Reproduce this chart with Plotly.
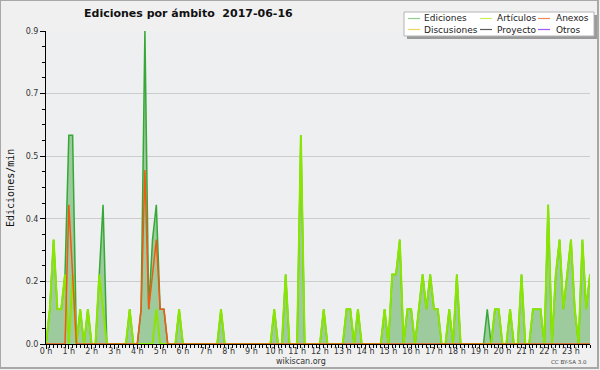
import plotly.graph_objects as go

# ---- data: edits per minute, 10-minute bins (6 per hour), 2017-06-16 ----
ediciones = [
    0, 0.1, 0.3, 0.1, 0.1, 0.2,      # 0 h
    0.6, 0.6, 0, 0.1, 0, 0.1,        # 1 h
    0, 0, 0.2, 0.4, 0, 0,            # 2 h
    0, 0, 0, 0, 0.1, 0,              # 3 h
    0, 0.1, 0.9, 0.1, 0.3, 0.4,      # 4 h
    0.1, 0.1, 0, 0, 0, 0.1,          # 5 h
    0, 0, 0, 0, 0, 0,                # 6 h
    0, 0, 0, 0, 0.1, 0,              # 7 h
    0, 0, 0, 0, 0, 0,                # 8 h
    0, 0, 0, 0, 0, 0,                # 9 h
    0.1, 0, 0, 0.2, 0, 0,            # 10 h
    0, 0.6, 0, 0, 0, 0,              # 11 h
    0, 0.1, 0, 0, 0, 0,              # 12 h
    0, 0.1, 0.1, 0, 0.1, 0,          # 13 h
    0, 0, 0, 0, 0, 0.1,              # 14 h
    0, 0.2, 0.2, 0.3, 0, 0.1,        # 15 h
    0.1, 0, 0.1, 0.2, 0.1, 0.2,      # 16 h
    0.1, 0.1, 0, 0, 0.1, 0,          # 17 h
    0.2, 0, 0, 0, 0, 0,              # 18 h
    0, 0, 0.1, 0, 0.1, 0.1,          # 19 h
    0, 0, 0.1, 0, 0, 0.2,            # 20 h
    0, 0, 0.1, 0.1, 0.1, 0,          # 21 h
    0.4, 0, 0.2, 0.3, 0.1, 0.2,      # 22 h
    0.3, 0.1, 0, 0.3, 0.1, 0.2,      # 23 h
]

articulos = [
    0, 0.1, 0.3, 0.1, 0.1, 0.2,
    0, 0.2, 0, 0.1, 0, 0.1,
    0, 0, 0.2, 0.1, 0, 0,
    0, 0, 0, 0, 0.1, 0,
    0, 0, 0, 0, 0, 0.1,
    0, 0, 0, 0, 0, 0.1,
    0, 0, 0, 0, 0, 0,
    0, 0, 0, 0, 0.1, 0,
    0, 0, 0, 0, 0, 0,
    0, 0, 0, 0, 0, 0,
    0.1, 0, 0, 0.2, 0, 0,
    0, 0.6, 0, 0, 0, 0,
    0, 0.1, 0, 0, 0, 0,
    0, 0.1, 0.1, 0, 0.1, 0,
    0, 0, 0, 0, 0, 0.1,
    0, 0.2, 0.2, 0.3, 0, 0.1,
    0.1, 0, 0.1, 0.2, 0.1, 0.2,
    0.1, 0.1, 0, 0, 0.1, 0,
    0.2, 0, 0, 0, 0, 0,
    0, 0, 0, 0, 0.1, 0.1,
    0, 0, 0.1, 0, 0, 0.2,
    0, 0, 0.1, 0.1, 0.1, 0,
    0.4, 0, 0.2, 0.3, 0.1, 0.2,
    0.3, 0.1, 0, 0.3, 0.1, 0.2,
]

anexos = [
    0, 0, 0, 0, 0, 0,
    0.4, 0.2, 0, 0, 0, 0,
    0, 0, 0, 0, 0, 0,
    0, 0, 0, 0, 0, 0,
    0, 0.1, 0.5, 0.1, 0.2, 0.3,
    0.1, 0.1, 0, 0, 0, 0,
    0, 0, 0, 0, 0, 0,
    0, 0, 0, 0, 0, 0,
    0, 0, 0, 0, 0, 0,
    0, 0, 0, 0, 0, 0,
    0, 0, 0, 0, 0, 0,
    0, 0, 0, 0, 0, 0,
    0, 0, 0, 0, 0, 0,
    0, 0, 0, 0, 0, 0,
    0, 0, 0, 0, 0, 0,
    0, 0, 0, 0, 0, 0,
    0, 0, 0, 0, 0, 0,
    0, 0, 0, 0, 0, 0,
    0, 0, 0, 0, 0, 0,
    0, 0, 0, 0, 0, 0,
    0, 0, 0, 0, 0, 0,
    0, 0, 0, 0, 0, 0,
    0, 0, 0, 0, 0, 0,
    0, 0, 0, 0, 0, 0,
]

hour_ticks = list(range(24))
hour_labels = ["0 h", "1 h", "2 h", "3 h", "4 h", "5 h", "6 h", "7 h", "8 h", "9 h",
               "10 h", "11 h", "12 h", "13 h", "14 h", "15 h", "16 h", "17 h", "18 h",
               "19 h", "20 h", "21 h", "22 h", "23 h"]
y_ticks = [0, 0.18, 0.36, 0.54, 0.72, 0.9]
y_labels = ["0.0", "0.2", "0.4", "0.5", "0.7", "0.9"]

legend_names = [["Ediciones", "Artículos", "Anexos"],
                ["Discusiones", "Proyecto", "Otros"]]
legend_colors = [["#8fd08f", "#c8ee5a", "#f08a5a"],
                 ["#f2d460", "#5a5a5a", "#9a5af0"]]

BIN_MIN = 10
x_hours = [i * BIN_MIN / 60 for i in range(len(ediciones))]

# ---- geometry helpers (pixels -> paper) ----
W, H = 600, 370
ML, MR, MT, MB = 46, 10, 31, 26
PW, PH = W - ML - MR, H - MT - MB


def px(x):
    return (x - ML) / PW


def py(y):
    return (H - MB - y) / PH


FONT = "DejaVu Sans"

fig = go.Figure()
fig.add_trace(go.Scatter(x=x_hours, y=ediciones, mode="lines", name="Ediciones",
                         line=dict(color="#35a835", width=1.5),
                         fill="tozeroy", fillcolor="#9ecb9e", showlegend=False))
fig.add_trace(go.Scatter(x=x_hours, y=articulos, mode="lines", name="Artículos",
                         line=dict(color="#8ae600", width=2), showlegend=False))
fig.add_trace(go.Scatter(x=x_hours, y=anexos, mode="lines", name="Anexos",
                         line=dict(color="#f05a14", width=1.5), showlegend=False))

shapes = []
annotations = []

# outer frame
shapes.append(dict(type="rect", xref="paper", yref="paper",
                   x0=px(0), x1=px(598), y0=py(368), y1=py(0),
                   line=dict(color="#a8a8a8", width=2), fillcolor="rgba(0,0,0,0)", layer="above"))
# legend shadow + box
shapes.append(dict(type="rect", xref="paper", yref="paper",
                   x0=px(407), x1=px(597), y0=py(39), y1=py(15),
                   line=dict(width=0), fillcolor="#9a9a9a", layer="above"))
shapes.append(dict(type="rect", xref="paper", yref="paper",
                   x0=px(404), x1=px(594), y0=py(36), y1=py(12),
                   line=dict(color="#b4b4b4", width=1), fillcolor="white", layer="above"))

col_sw = [(408, 420, 423), (480, 492, 496), (538, 550, 555)]
row_y = [18.5, 29.5]
for r in range(2):
    for c in range(3):
        x0, x1, xt = col_sw[c]
        shapes.append(dict(type="line", xref="paper", yref="paper",
                           x0=px(x0), x1=px(x1), y0=py(row_y[r]), y1=py(row_y[r]),
                           line=dict(color=legend_colors[r][c], width=1.2), layer="above"))
        annotations.append(dict(text=legend_names[r][c], xref="paper", yref="paper",
                                x=px(xt), y=py(row_y[r]), xanchor="left", yanchor="middle",
                                showarrow=False, borderpad=0,
                                font=dict(family=FONT, size=9, color="#222")))

annotations.append(dict(text="<b>Ediciones por ámbito\u00a0\u00a02017-06-16</b>",
                        xref="paper", yref="paper", x=px(188), y=py(13.5),
                        xanchor="center", yanchor="middle", showarrow=False,
                        font=dict(family=FONT, size=11, color="#111")))
annotations.append(dict(text="Ediciones/min", xref="paper", yref="paper",
                        x=px(10), y=py(188), xanchor="center", yanchor="middle",
                        textangle=-90, showarrow=False,
                        font=dict(family="DejaVu Sans Mono", size=10, color="#111")))
annotations.append(dict(text="wikiscan.org", xref="paper", yref="paper",
                        x=px(300.5), y=py(361.5), xanchor="center", yanchor="middle",
                        showarrow=False, font=dict(family=FONT, size=8, color="#333")))
annotations.append(dict(text="CC BY-SA 3.0", xref="paper", yref="paper",
                        x=px(589), y=py(362), xanchor="right", yanchor="middle",
                        showarrow=False, font=dict(family=FONT, size=5.5, color="#444")))

fig.update_layout(
    width=W, height=H,
    margin=dict(l=ML, r=MR, t=MT, b=MB, pad=0),
    paper_bgcolor="#f0f0f0",
    plot_bgcolor="#eeeff1",
    font=dict(family=FONT, size=8, color="#333"),
    shapes=shapes,
    annotations=annotations,
    showlegend=False,
    xaxis=dict(range=[0, x_hours[-1]], tickmode="array", tickvals=hour_ticks,
               ticktext=hour_labels, ticks="outside", ticklen=4, tickcolor="black",
               ticklabelstandoff=-5,
               showline=True, linecolor="black", linewidth=1, showgrid=False,
               zeroline=False, tickfont=dict(family=FONT, size=8, color="#333"),
               minor=dict(tickmode="linear", tick0=0, dtick=1 / 6, ticks="outside",
                          ticklen=3, tickcolor="black", showgrid=False)),
    yaxis=dict(range=[0, 0.9], tickmode="array", tickvals=y_ticks, ticktext=y_labels,
               ticks="outside", ticklen=5, tickcolor="black",
               showline=True, linecolor="black", linewidth=1,
               showgrid=True, gridcolor="#cccccc", gridwidth=1, zeroline=False,
               tickfont=dict(family=FONT, size=8, color="#333"),
               minor=dict(tickmode="linear", tick0=0, dtick=0.045, ticks="outside",
                          ticklen=3, tickcolor="black", showgrid=False)),
)

fig.write_html("out.html", config={"displayModeBar": False},
               post_script="document.body.style.margin='0';document.body.style.overflow='hidden';")
